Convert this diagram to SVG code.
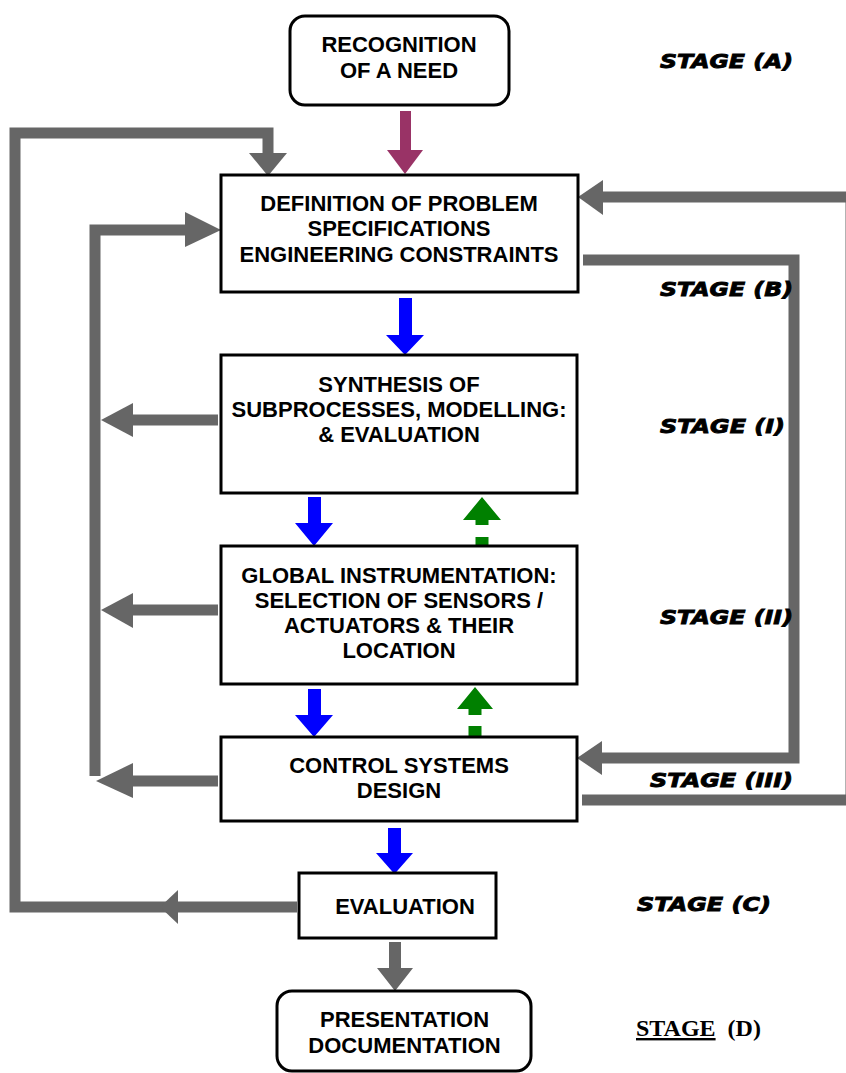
<svg xmlns="http://www.w3.org/2000/svg" width="846" height="1073" viewBox="0 0 846 1073">
<style>
.box{fill:#fff;stroke:#000;stroke-width:3}
.t{font-family:"Liberation Sans",Arial,sans-serif;font-weight:bold;font-size:22px;fill:#000;text-anchor:middle}
.st{font-family:"DejaVu Sans","Liberation Sans",sans-serif;font-weight:bold;font-style:italic;font-size:20px;fill:#000;stroke:#000;stroke-width:0.9}
.sd{font-family:"Liberation Serif","Times New Roman",serif;font-weight:bold;font-size:24px;fill:#000}
.gl{fill:none;stroke:#666;stroke-width:11;stroke-linejoin:miter;stroke-linecap:butt}
.gh{fill:#666}
.blue{fill:#0000ff}
.green{fill:#008000}
.mag{fill:#993366}
</style>
<rect width="846" height="1073" fill="#fff"/>
<g id="connectors">
  <polyline class="gl" points="297,907 15,907 15,133 268,133 268,154"/>
  <polygon class="gh" points="249,153 287,153 268,176"/>
  <polygon class="gh" points="160,907 178,890 178,924"/>
  <polyline class="gl" points="95,776 95,230 186,230"/>
  <polygon class="gh" points="185,212 185,247 221,230"/>
  <line class="gl" x1="218" y1="420" x2="132" y2="420"/>
  <polygon class="gh" points="133,403 133,437 101,420"/>
  <line class="gl" x1="218" y1="610" x2="132" y2="610"/>
  <polygon class="gh" points="133,593 133,628 101,610"/>
  <line class="gl" x1="218" y1="781" x2="132" y2="781"/>
  <polygon class="gh" points="133,763 133,798 96,781"/>
  <polyline class="gl" points="582,800 851,800 851,197 602,197"/>
  <polygon class="gh" points="603,180 603,215 578,197"/>
  <polyline class="gl" points="583,260 794,260 794,758 601,758"/>
  <polygon class="gh" points="602,741 602,775 577,758"/>
  <polygon class="mag" points="400,111 411,111 411,150 423,150 405,174 387,150 400,150"/>
  <polygon class="blue" points="399,298 412,298 412,335 424,335 405,355 386,335 399,335"/>
  <polygon class="blue" points="308,497 321,497 321,523 333,523 314,546 295,523 308,523"/>
  <polygon class="blue" points="308,689 321,689 321,715 333,715 314,737 295,715 308,715"/>
  <polygon class="blue" points="388,828 401,828 401,853 413,853 394.5,874 376,853 388,853"/>
  <polygon class="gh" points="389,942 401,942 401,968 413,968 395,991 377,968 389,968"/>
  <polygon class="green" points="482,497 501,520 488.5,520 488.5,525 475.5,525 475.5,520 463,520"/>
  <rect class="green" x="475.5" y="537" width="13" height="9"/>
  <polygon class="green" points="475,687 493,709 481.5,709 481.5,715 468.5,715 468.5,709 457,709"/>
  <rect class="green" x="468.5" y="726" width="13" height="11"/>
</g>
<g id="recognition">
  <rect class="box" x="290" y="16" width="219" height="89" rx="15"/>
  <text class="t" x="399" y="51.5">RECOGNITION</text>
  <text class="t" x="399" y="77.5">OF A NEED</text>
</g>
<g id="definition">
  <rect class="box" x="221" y="175" width="357" height="117"/>
  <text class="t" x="399" y="210.5">DEFINITION OF PROBLEM</text>
  <text class="t" x="399" y="235.5">SPECIFICATIONS</text>
  <text class="t" x="399" y="261.5">ENGINEERING CONSTRAINTS</text>
</g>
<g id="synthesis">
  <rect class="box" x="221" y="355" width="356" height="138"/>
  <text class="t" x="399" y="391.5">SYNTHESIS OF</text>
  <text class="t" x="399" y="416.5">SUBPROCESSES, MODELLING:</text>
  <text class="t" x="399" y="441.5">&amp; EVALUATION</text>
</g>
<g id="global">
  <rect class="box" x="221" y="546" width="356" height="138"/>
  <text class="t" x="399" y="582.5">GLOBAL INSTRUMENTATION:</text>
  <text class="t" x="399" y="607.5">SELECTION OF SENSORS /</text>
  <text class="t" x="399" y="632.5">ACTUATORS &amp; THEIR</text>
  <text class="t" x="399" y="657.5">LOCATION</text>
</g>
<g id="control">
  <rect class="box" x="221" y="737" width="356" height="84"/>
  <text class="t" x="399" y="772.5">CONTROL SYSTEMS</text>
  <text class="t" x="399" y="797.5">DESIGN</text>
</g>
<g id="evaluation">
  <rect class="box" x="299" y="873" width="197" height="65"/>
  <text class="t" x="405" y="913.5">EVALUATION</text>
</g>
<g id="presentation">
  <rect class="box" x="277" y="991" width="254" height="80" rx="15"/>
  <text class="t" x="404.5" y="1026.5">PRESENTATION</text>
  <text class="t" x="404.5" y="1052.5">DOCUMENTATION</text>
</g>
<g id="stages">
  <text class="st" x="660" y="67.5" textLength="133" lengthAdjust="spacingAndGlyphs">STAGE  (A)</text>
  <text class="st" x="660" y="295.5" textLength="133" lengthAdjust="spacingAndGlyphs">STAGE  (B)</text>
  <text class="st" x="660" y="432.5" textLength="125" lengthAdjust="spacingAndGlyphs">STAGE  (I)</text>
  <text class="st" x="660" y="623.5" textLength="133" lengthAdjust="spacingAndGlyphs">STAGE  (II)</text>
  <text class="st" x="650" y="786.5" textLength="143" lengthAdjust="spacingAndGlyphs">STAGE  (III)</text>
  <text class="st" x="637" y="910.5" textLength="134" lengthAdjust="spacingAndGlyphs">STAGE  (C)</text>
  <text class="sd" x="636" y="1036" xml:space="preserve"><tspan text-decoration="underline">STAGE</tspan>  (D)</text>
</g>
</svg>
